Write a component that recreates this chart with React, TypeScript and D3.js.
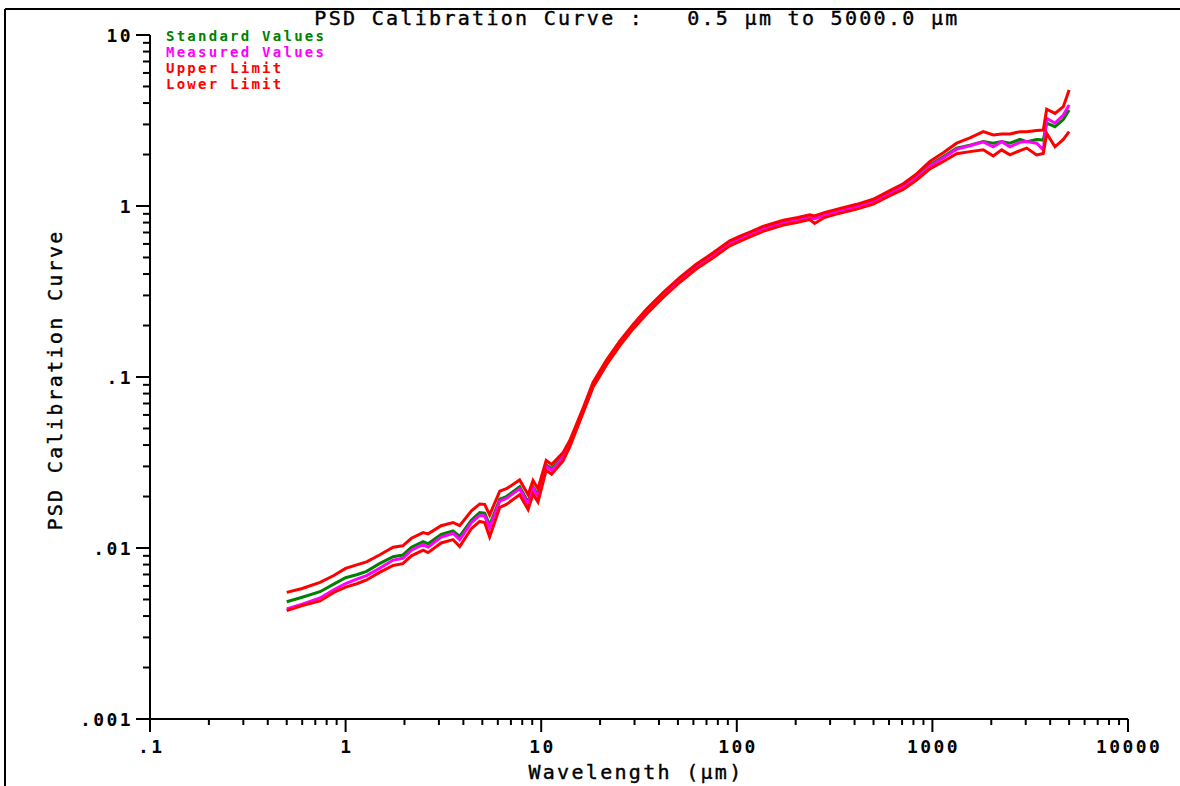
import React from "react";
import * as d3 from "d3";

// wavelength grid (µm)
const wavelength = [
  0.5, 0.6, 0.74, 0.87, 1.0, 1.15, 1.28, 1.49, 1.75, 1.96, 2.17, 2.49, 2.64, 3.08, 3.54, 3.83,
  4.4, 4.85, 5.14, 5.45, 6.14, 6.64, 7.76, 8.57, 9.08, 9.63, 10.6, 11.3, 12.9, 14.0, 16.4, 18.4,
  21.6, 25.2, 29.5, 34.5, 42, 51, 62, 76, 92, 104, 120, 136, 173, 205, 236, 250, 280, 323, 410,
  498, 606, 709, 830, 971, 1136, 1330, 1555, 1820, 2047, 2260, 2490, 2803, 3033, 3413, 3690,
  3840, 4233, 4670, 5000,
];

const standardValues = [
  0.00485, 0.00515, 0.00555, 0.00615, 0.0067, 0.007, 0.0073, 0.0081, 0.0089, 0.0091, 0.0101,
  0.0109, 0.0106, 0.012, 0.0126, 0.0117, 0.0146, 0.0161, 0.016, 0.0136, 0.0193, 0.02, 0.0228,
  0.0185, 0.0228, 0.0204, 0.0306, 0.0292, 0.0342, 0.0409, 0.064, 0.09, 0.122, 0.157, 0.197,
  0.241, 0.302, 0.369, 0.442, 0.517, 0.605, 0.645, 0.69, 0.735, 0.8, 0.83, 0.86, 0.845, 0.885,
  0.926, 0.991, 1.06, 1.19, 1.3, 1.48, 1.74, 1.94, 2.18, 2.27, 2.38, 2.33, 2.38, 2.33, 2.45,
  2.38, 2.45, 2.43, 3.05, 2.91, 3.2, 3.64,
];

const measuredValues = [
  0.0044, 0.0047, 0.0051, 0.0057, 0.0062, 0.0066, 0.0069, 0.0076, 0.0085, 0.0087, 0.0097,
  0.0105, 0.0101, 0.0116, 0.0122, 0.0112, 0.0141, 0.0155, 0.0154, 0.0131, 0.0188, 0.0195,
  0.0222, 0.018, 0.0223, 0.02, 0.03, 0.0285, 0.0336, 0.0402, 0.063, 0.089, 0.121, 0.156, 0.196,
  0.24, 0.301, 0.368, 0.441, 0.516, 0.603, 0.643, 0.688, 0.733, 0.798, 0.828, 0.858, 0.842,
  0.882, 0.923, 0.988, 1.05, 1.18, 1.29, 1.46, 1.71, 1.91, 2.15, 2.25, 2.37, 2.22, 2.38, 2.22,
  2.36, 2.38, 2.33, 2.13, 3.26, 3.05, 3.4, 3.9,
];

const upperLimit = [
  0.0055, 0.0058, 0.0063, 0.0069, 0.0076, 0.008, 0.0083, 0.0091, 0.0101, 0.0103, 0.0114,
  0.0123, 0.0121, 0.0135, 0.0141, 0.0135, 0.0165, 0.0181, 0.018, 0.0156, 0.0215, 0.0222, 0.025,
  0.0205, 0.0248, 0.0222, 0.0325, 0.0308, 0.036, 0.0425, 0.066, 0.093, 0.126, 0.162, 0.203,
  0.249, 0.312, 0.381, 0.456, 0.534, 0.625, 0.666, 0.712, 0.759, 0.826, 0.857, 0.888, 0.875,
  0.914, 0.956, 1.023, 1.095, 1.23, 1.35, 1.54, 1.82, 2.05, 2.33, 2.5, 2.72, 2.6, 2.64, 2.64,
  2.72, 2.72, 2.76, 2.78, 3.68, 3.48, 3.81, 4.77,
];

const lowerLimit = [
  0.0043, 0.0046, 0.0049, 0.0055, 0.0059, 0.0062, 0.0065, 0.0072, 0.0079, 0.0081, 0.009,
  0.0097, 0.0094, 0.0107, 0.0112, 0.0102, 0.013, 0.0143, 0.0141, 0.0116, 0.0173, 0.018, 0.0205,
  0.0168, 0.0207, 0.0186, 0.0285, 0.027, 0.0322, 0.039, 0.062, 0.087, 0.118, 0.152, 0.191,
  0.233, 0.292, 0.357, 0.428, 0.5, 0.585, 0.624, 0.668, 0.711, 0.774, 0.803, 0.832, 0.79, 0.856,
  0.896, 0.959, 1.025, 1.15, 1.25, 1.42, 1.65, 1.82, 2.02, 2.08, 2.13, 1.96, 2.13, 1.99, 2.11,
  2.18, 1.99, 2.03, 2.66, 2.22, 2.45, 2.72,
];

const seriesNames = ["Standard Values", "Measured Values", "Upper Limit", "Lower Limit"];
const seriesColors = ["#008000", "#ff00ff", "#ff0000", "#ff0000"];

const xTickValues = [0.1, 1, 10, 100, 1000, 10000];
const xTickLabels = [".1", "1", "10", "100", "1000", "10000"];
const yTickValues = [0.001, 0.01, 0.1, 1, 10];
const yTickLabels = [".001", ".01", ".1", "1", "10"];

const W = 1180;
const H = 786;
const mono = "'DejaVu Sans Mono', 'Liberation Mono', monospace";

const App = () => {
  const x = d3.scaleLog().domain([0.1, 10000]).range([150, 1128]);
  const y = d3.scaleLog().domain([0.001, 10]).range([719, 35]);

  const line = d3
    .line<number>()
    .x((_, i) => x(wavelength[i]))
    .y((d) => y(d));

  const allSeries = [standardValues, measuredValues, upperLimit, lowerLimit];

  // minor ticks at 2..9 of each decade
  const xMinor: number[] = [];
  for (let e = -1; e < 4; e++) for (let k = 2; k < 10; k++) xMinor.push(k * Math.pow(10, e));
  const yMinor: number[] = [];
  for (let e = -3; e < 1; e++) for (let k = 2; k < 10; k++) yMinor.push(k * Math.pow(10, e));

  const x0 = x.range()[0];
  const y0 = y.range()[0];

  return (
    <svg
      width={W}
      height={H}
      viewBox={`0 0 ${W} ${H}`}
      style={{ position: "absolute", left: 0, top: 0, background: "#fff" }}
    >
      {/* frame */}
      <line x1={5} y1={9} x2={W} y2={9} stroke="#000" strokeWidth={2} />
      <line x1={5} y1={9} x2={5} y2={H} stroke="#000" strokeWidth={2} />

      {/* title */}
      <text
        x={637}
        y={25}
        textAnchor="middle"
        fontFamily={mono}
        fontSize={20}
        letterSpacing={2.3}
        fill="#000"
        stroke="#000"
        strokeWidth={0.4}
        style={{ whiteSpace: "pre" }}
      >
        {"PSD Calibration Curve :   0.5 µm to 5000.0 µm"}
      </text>

      {/* axes */}
      <line x1={x0} y1={y.range()[1]} x2={x0} y2={y0} stroke="#000" strokeWidth={2} />
      <line x1={x0} y1={y0} x2={x.range()[1]} y2={y0} stroke="#000" strokeWidth={2} />

      {xMinor.map((v, i) => (
        <line key={"xm" + i} x1={x(v)} x2={x(v)} y1={y0} y2={y0 + 6} stroke="#000" strokeWidth={2} />
      ))}
      {xTickValues.map((v, i) => (
        <g key={"xt" + i}>
          <line x1={x(v)} x2={x(v)} y1={y0} y2={y0 + 13} stroke="#000" strokeWidth={2} />
          <text
            x={x(v) + 1.2}
            y={753}
            textAnchor="middle"
            fontFamily={mono}
            fontWeight="bold"
            fontSize={18}
            letterSpacing={2.4}
            fill="#000"
          >
            {xTickLabels[i]}
          </text>
        </g>
      ))}

      {yMinor.map((v, i) => (
        <line key={"ym" + i} x1={x0 - 7} x2={x0} y1={y(v)} y2={y(v)} stroke="#000" strokeWidth={2} />
      ))}
      {yTickValues.map((v, i) => (
        <g key={"yt" + i}>
          <line x1={x0 - 14} x2={x0} y1={y(v)} y2={y(v)} stroke="#000" strokeWidth={2} />
          <text
            x={133}
            y={y(v) + 6.5}
            textAnchor="end"
            fontFamily={mono}
            fontWeight="bold"
            fontSize={18}
            letterSpacing={2.4}
            fill="#000"
          >
            {yTickLabels[i]}
          </text>
        </g>
      ))}

      {/* axis titles */}
      <text
        x={636}
        y={779}
        textAnchor="middle"
        fontFamily={mono}
        fontSize={20}
        letterSpacing={2.3}
        fill="#000"
        stroke="#000"
        strokeWidth={0.4}
      >
        Wavelength (µm)
      </text>
      <text
        transform="translate(62,380) rotate(-90)"
        textAnchor="middle"
        fontFamily={mono}
        fontSize={20}
        letterSpacing={2.3}
        fill="#000"
        stroke="#000"
        strokeWidth={0.4}
      >
        PSD Calibration Curve
      </text>

      {/* curves */}
      {allSeries.map((s, i) => (
        <path
          key={"s" + i}
          d={line(s) || ""}
          fill="none"
          stroke={seriesColors[i]}
          strokeWidth={3}
          strokeLinejoin="miter"
        />
      ))}

      {/* legend */}
      {seriesNames.map((name, i) => (
        <text
          key={"lg" + i}
          x={166}
          y={41 + i * 16}
          fontFamily={mono}
          fontWeight="bold"
          fontSize={14}
          letterSpacing={2.25}
          fill={seriesColors[i]}
        >
          {name}
        </text>
      ))}
    </svg>
  );
};

export default App;
